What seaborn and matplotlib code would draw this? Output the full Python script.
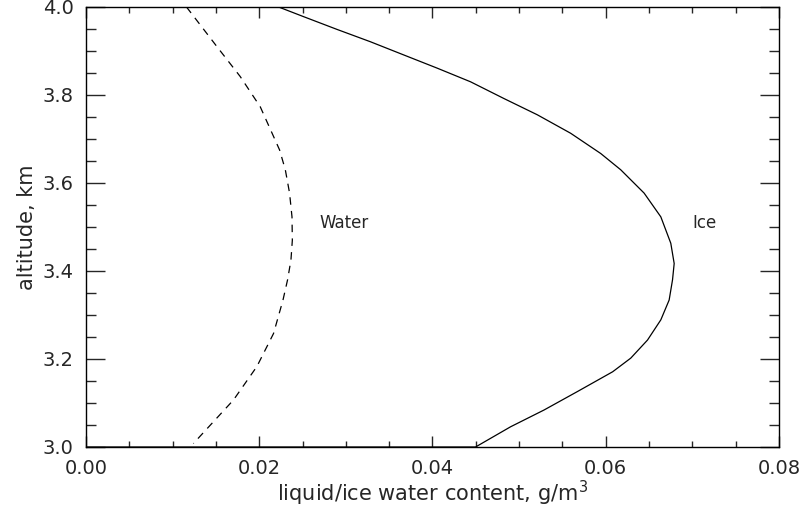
"""
Liquid / ice water content profile (IDL-style plot) recreated with seaborn
"""
import pandas as pd
import numpy as np
import matplotlib
matplotlib.use("Agg")
import matplotlib.pyplot as plt
import seaborn as sns
from matplotlib.ticker import MultipleLocator

# values (g/m^3 vs km)
ice_lwc = [0.0, 0.02223, 0.02512, 0.02898, 0.03283, 0.03668, 0.04054, 0.04439,
           0.04824, 0.05210, 0.05595, 0.05942, 0.06173, 0.06443, 0.06636,
           0.06751, 0.06790, 0.06771, 0.06732, 0.06636, 0.06482, 0.06289,
           0.06080, 0.05673, 0.05287, 0.04902, 0.04497, 0.0]
ice_alt = [4.0, 4.0, 3.978, 3.949, 3.921, 3.891, 3.861, 3.830,
           3.792, 3.755, 3.713, 3.667, 3.630, 3.577, 3.523,
           3.463, 3.417, 3.380, 3.334, 3.289, 3.243, 3.202,
           3.171, 3.126, 3.084, 3.046, 3.0, 3.0]

water_lwc = [0.01160, 0.01511, 0.01780, 0.02012, 0.02235, 0.02301, 0.02350,
             0.02378, 0.02382, 0.02366, 0.02327, 0.02274, 0.02165,
             0.01973, 0.01703, 0.01240]
water_alt = [4.0, 3.910, 3.842, 3.773, 3.675, 3.630, 3.577,
             3.523, 3.470, 3.425, 3.380, 3.334, 3.258,
             3.183, 3.107, 3.008]

x_ticks = [0.00, 0.02, 0.04, 0.06, 0.08]
y_ticks = [3.0, 3.2, 3.4, 3.6, 3.8, 4.0]

sns.set_style("ticks")
plt.rcParams['font.family'] = ['DejaVu Sans']
plt.rcParams['axes.unicode_minus'] = False

ice_df = pd.DataFrame({'lwc': ice_lwc, 'alt': ice_alt})
water_df = pd.DataFrame({'lwc': water_lwc, 'alt': water_alt})

fig = plt.figure(figsize=(8.03, 5.17), dpi=100)
ax = fig.add_axes([0.1071, 0.1354, 0.8630, 0.8511])

# ice: solid, water: dashed
sns.lineplot(data=ice_df, x='lwc', y='alt', sort=False, estimator=None,
             color='black', linewidth=0.9, ax=ax)
sns.lineplot(data=water_df, x='lwc', y='alt', sort=False, estimator=None,
             color='black', linewidth=0.9, linestyle=(0, (6, 5)), ax=ax)

ax.text(0.0270, 3.51, 'Water', fontsize=12, va='center', ha='left')
ax.text(0.0700, 3.51, 'Ice', fontsize=12, va='center', ha='left')

ax.set_xlim(0.0, 0.08)
ax.set_ylim(3.0, 4.0)
ax.set_xticks(x_ticks)
ax.set_yticks(y_ticks)
ax.set_xticklabels([f"{v:.2f}" for v in x_ticks])
ax.set_yticklabels([f"{v:.1f}" for v in y_ticks])
ax.xaxis.set_minor_locator(MultipleLocator(0.005))
ax.yaxis.set_minor_locator(MultipleLocator(0.05))

ax.tick_params(axis='x', which='major', direction='in', length=8, width=1,
               top=True, labelsize=14, pad=9)
ax.tick_params(axis='x', which='minor', direction='in', length=4, width=1, top=True)
ax.tick_params(axis='y', which='major', direction='in', length=14, width=1,
               right=True, labelsize=14, pad=9)
ax.tick_params(axis='y', which='minor', direction='in', length=7, width=1, right=True)

for sp in ax.spines.values():
    sp.set_linewidth(1.0)
    sp.set_color('black')

ax.set_xlabel('liquid/ice water content, g/m$^3$', fontsize=15, labelpad=0)
ax.set_ylabel('altitude, km', fontsize=15, labelpad=4)

plt.savefig('out.png', dpi=100)
